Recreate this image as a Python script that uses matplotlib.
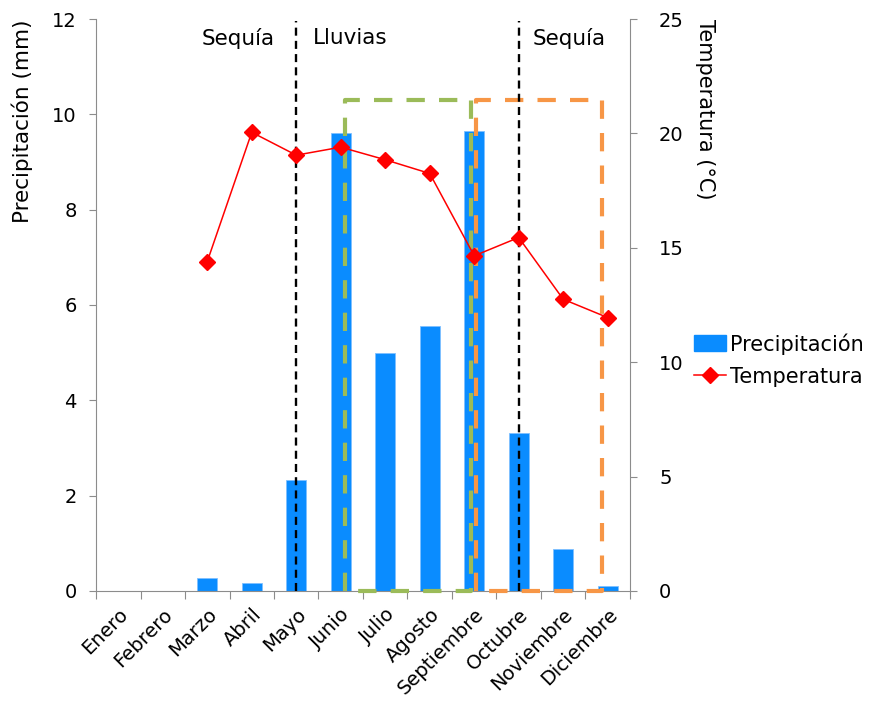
import matplotlib
matplotlib.use("Agg")
import matplotlib.pyplot as plt
from matplotlib.lines import Line2D
from matplotlib.patches import Patch

# Data
months = ["Enero", "Febrero", "Marzo", "Abril", "Mayo", "Junio", "Julio",
          "Agosto", "Septiembre", "Octubre", "Noviembre", "Diciembre"]
precip = [0, 0, 0.27, 0.17, 2.33, 9.6, 5.0, 5.56, 9.65, 3.32, 0.88, 0.1]
temp_months = ["Marzo", "Abril", "Mayo", "Junio", "Julio", "Agosto",
               "Septiembre", "Octubre", "Noviembre", "Diciembre"]
temp = [14.4, 20.05, 19.05, 19.4, 18.85, 18.25, 14.65, 15.45, 12.75, 11.95]

# season divisions and the two highlighted periods (in category units)
season_lines = ["Mayo", "Octubre"]
season_labels = ["Sequía", "Lluvias", "Sequía"]
season_label_x = [2.69, 5.21, 10.13]
green_box = (5.1, 7.93, 10.3)     # x0, x1, top (mm)
orange_box = (8.03, 10.88, 10.3)

BLUE = "#0A8CFF"
GREEN = "#9BBB59"
ORANGE = "#F79646"
GRAY = "#8C8C8C"

plt.rcParams["font.family"] = ["DejaVu Sans"]

fig = plt.figure(figsize=(8.73, 7.06), dpi=100)
ax = fig.add_axes([0.11, 0.163, 0.6116, 0.81])
ax2 = ax.twinx()

x = list(range(len(months)))
ax.bar(x, precip, width=0.45, color=BLUE, edgecolor="#7FC0FF", linewidth=0.6, zorder=2)

tx = [months.index(m) for m in temp_months]
ax2.plot(tx, temp, color="#FF0000", lw=1.1, marker="D", markersize=8,
         markeredgecolor="#FF0000", zorder=5)

# dashed highlight boxes
for (x0, x1, top), col in [(green_box, GREEN), (orange_box, ORANGE)]:
    ax.plot([x0, x0, x1, x1, x0], [0, top, top, 0, 0], color=col, lw=3,
            linestyle=(0, (4.4, 3.4)), zorder=3, clip_on=False)

# season separators
for m in season_lines:
    xi = months.index(m)
    ax.plot([xi, xi], [0, 11.95], color="black", lw=1.7,
            linestyle=(0, (3.4, 2.2)), zorder=4)

for lab, lx in zip(season_labels, season_label_x):
    ax.text(lx, 11.6, lab, fontsize=15.5, ha="center", va="center")

ax.set_xlim(-0.5, 11.5)
ax.set_ylim(0, 12)
ax2.set_ylim(0, 25)
ax.set_yticks(range(0, 13, 2))
ax2.set_yticks(range(0, 26, 5))

ax.set_xticks([i - 0.5 for i in range(13)], minor=False)
ax.set_xticklabels([])
ax.set_xticks(x, minor=True)
ax.set_xticklabels(months, minor=True, rotation=45, ha="right",
                   rotation_mode="anchor", fontsize=14)
ax.tick_params(axis="x", which="minor", length=0, pad=10)
ax.tick_params(axis="x", which="major", length=6, color=GRAY, direction="out")

ax.tick_params(axis="y", labelsize=14, color=GRAY, length=5, pad=9)
ax2.tick_params(axis="y", labelsize=14, color=GRAY, length=5, pad=16)

for a in (ax, ax2):
    a.spines["top"].set_visible(False)
    for s in ("left", "right", "bottom"):
        a.spines[s].set_color(GRAY)
ax.spines["right"].set_visible(False)
ax2.spines["left"].set_visible(False)
ax2.spines["bottom"].set_visible(False)

fig.text(0.026, 0.973, "Precipitación (mm)", fontsize=15.5, rotation=90,
         ha="center", va="top")
fig.text(0.808, 0.973, "Temperatura (°C)", fontsize=15, rotation=-90,
         ha="center", va="top")

handles = [Patch(facecolor=BLUE, edgecolor=BLUE),
           Line2D([], [], color="#FF0000", lw=1.1, marker="D", markersize=8)]
fig.legend(handles, ["Precipitación", "Temperatura"], loc="center left",
           bbox_to_anchor=(0.785, 0.49), frameon=False, fontsize=15,
           handlelength=1.55, handleheight=0.8, handletextpad=0.2,
           labelspacing=0.6, borderaxespad=0)

fig.savefig("out.png", dpi=100)
